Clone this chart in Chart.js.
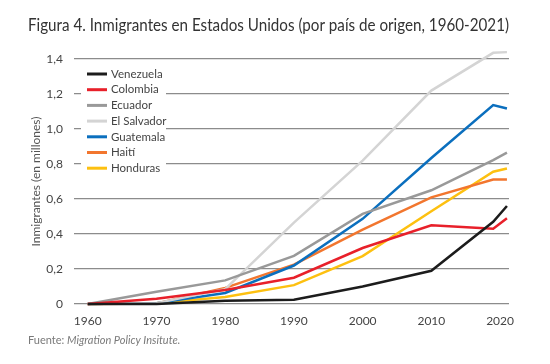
<!DOCTYPE html>
<html>
<head>
<meta charset="utf-8">
<script src="https://cdn.jsdelivr.net/npm/chart.js@4/dist/chart.umd.min.js"></script>
<style>
  html, body { margin: 0; padding: 0; background: #fff; }
  #wrap { width: 550px; height: 364px; position: relative; }
</style>
</head>
<body>
<div id="wrap"><canvas id="c" width="550" height="364"></canvas></div>
<script>
const titleText = 'Figura 4. Inmigrantes en Estados Unidos (por país de origen, 1960-2021)';
const yAxisTitle = 'Inmigrantes (en millones)';
const sourceLabel = 'Fuente: ';
const sourceName = 'Migration Policy Insitute.';

const years = [1960, 1970, 1980, 1990, 2000, 2010, 2019, 2021];
const seriesNames = ['Venezuela', 'Colombia', 'Ecuador', 'El Salvador', 'Guatemala', 'Haití', 'Honduras'];
const venezuela  = [0, 0,     0.018, 0.025, 0.10,  0.19,  0.47,  0.56];
const colombia   = [0, 0.03,  0.08,  0.15,  0.32,  0.45,  0.43,  0.49];
const ecuador    = [0, 0.07,  0.135, 0.275, 0.515, 0.65,  0.823, 0.865];
const elSalvador = [0, 0.005, 0.085, 0.465, 0.82,  1.22,  1.436, 1.44];
const guatemala  = [0, 0.005, 0.063, 0.22,  0.487, 0.835, 1.137, 1.118];
const haiti      = [0, 0.003, 0.092, 0.225, 0.425, 0.61,  0.712, 0.712];
const honduras   = [0, 0.005, 0.04,  0.108, 0.274, 0.53,  0.756, 0.775];

const xTicks = [1960, 1970, 1980, 1990, 2000, 2010, 2020];
const yTicks = [0, 0.2, 0.4, 0.6, 0.8, 1.0, 1.2, 1.4];
const yTickLabels = ['0', '0,2', '0,4', '0,6', '0,8', '1,0', '1,2', '1,4'];

const colors = ['#1c1c1c', '#e8202a', '#999999', '#d4d4d4', '#0b6fbe', '#f2762e', '#fdc010'];
const values = [venezuela, colombia, ecuador, elSalvador, guatemala, haiti, honduras];

const FONT = 'Lato, "Open Sans", sans-serif';

const datasets = seriesNames.map((name, i) => ({
  label: name,
  data: years.map((yr, j) => ({ x: yr, y: values[i][j] })),
  borderColor: colors[i],
  backgroundColor: colors[i],
  borderWidth: 2.5,
  pointRadius: 0,
  tension: 0,
  clip: false,
  borderCapStyle: 'butt',
  borderJoinStyle: 'miter'
}));

const legendPlugin = {
  id: 'boxLegend',
  beforeDatasetsDraw(chart) {
    const ctx = chart.ctx;
    ctx.save();
    ctx.fillStyle = '#ffffff';
    ctx.fillRect(81, 64, 85, 112);
    ctx.font = '11.5px ' + FONT;
    ctx.textBaseline = 'middle';
    ctx.textAlign = 'left';
    chart.data.datasets.forEach((ds, i) => {
      const y = 74 + i * 15.7;
      ctx.strokeStyle = ds.borderColor;
      ctx.lineWidth = 3;
      ctx.beginPath();
      ctx.moveTo(87, y);
      ctx.lineTo(107, y);
      ctx.stroke();
      ctx.fillStyle = '#444';
      ctx.fillText(ds.label, 111, y);
    });
    ctx.restore();
  },
  afterDraw(chart) {
    const ctx = chart.ctx;
    ctx.save();
    ctx.fillStyle = '#7a7a7a';
    ctx.textBaseline = 'middle';
    ctx.textAlign = 'left';
    ctx.font = '11px ' + FONT;
    ctx.fillText(sourceLabel, 28, 340);
    const w = ctx.measureText(sourceLabel).width;
    ctx.font = 'italic 11px ' + FONT;
    ctx.fillText(sourceName, 28 + w, 340);
    ctx.restore();
  }
};

new Chart(document.getElementById('c'), {
  type: 'line',
  data: { datasets },
  options: {
    responsive: false,
    animation: false,
    layout: { padding: { left: 28, right: 41, top: 0, bottom: 0 } },
    plugins: {
      legend: { display: false },
      tooltip: { enabled: false },
      title: {
        display: true,
        text: titleText,
        align: 'start',
        color: '#333',
        font: { family: FONT, size: 16.6, weight: 'normal' },
        padding: { top: 16, bottom: 23.2 }
      }
    },
    scales: {
      x: {
        type: 'linear',
        min: 1958,
        max: 2021.3,
        grid: { display: false },
        border: { display: false },
        afterBuildTicks: s => { s.ticks = xTicks.map(v => ({ value: v })); },
        ticks: {
          color: '#444',
          font: { family: FONT, size: 12 },
          padding: 2,
          maxRotation: 0,
          autoSkip: false,
          callback: v => String(v)
        },
        afterFit: s => { s.height = 60; }
      },
      y: {
        min: 0,
        max: 1.4,
        afterBuildTicks: s => { s.ticks = yTicks.map(v => ({ value: v })); },
        grid: { color: '#8c8c8c', lineWidth: 1.3, drawTicks: false },
        border: { display: false },
        ticks: {
          color: '#444',
          font: { family: FONT, size: 12 },
          padding: 11,
          callback: v => yTickLabels[yTicks.findIndex(t => Math.abs(t - v) < 1e-9)]
        },
        title: {
          display: true,
          text: yAxisTitle,
          color: '#555',
          font: { family: FONT, size: 12 },
          padding: { top: 0.8, bottom: 0 }
        },
        afterFit: s => { s.width = 46; }
      }
    }
  },
  plugins: [legendPlugin]
});
</script>
</body>
</html>
